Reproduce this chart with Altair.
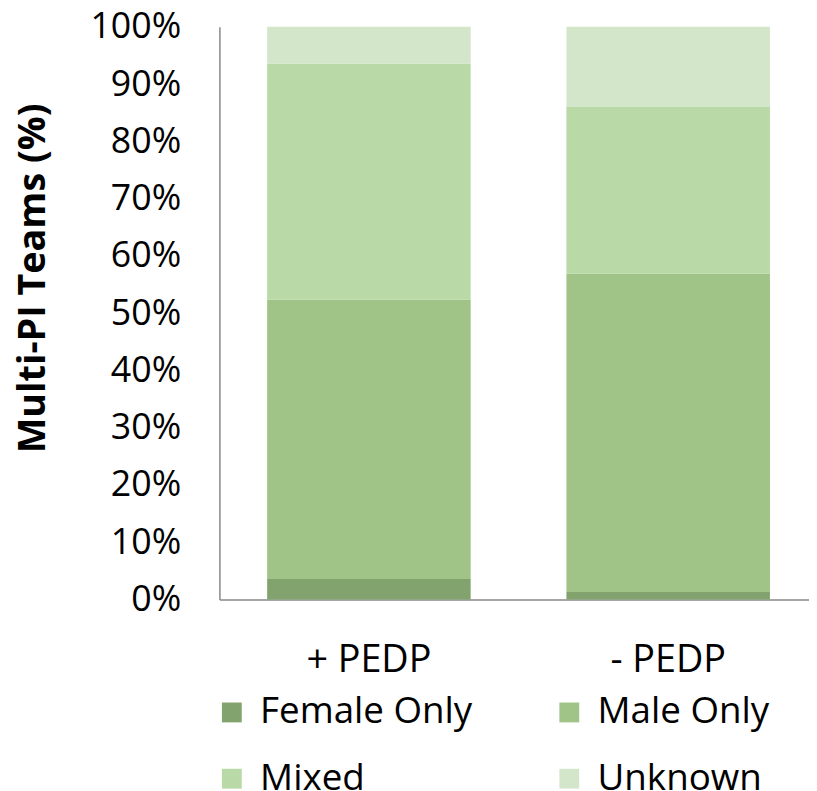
import altair as alt
import pandas as pd

groups = ["+ PEDP", "- PEDP"]
categories = ["Female Only", "Male Only", "Mixed", "Unknown"]
plus_values = [3.6, 48.8, 41.2, 6.4]
minus_values = [1.3, 55.6, 29.1, 14.0]
colors = ["#83A36E", "#A0C488", "#B9D9A6", "#D4E6C9"]
y_ticks = [0, 0.1, 0.2, 0.3, 0.4, 0.5, 0.6, 0.7, 0.8, 0.9, 1.0]

rows = []
for g, vals in zip(groups, [plus_values, minus_values]):
    for i, (c, v) in enumerate(zip(categories, vals)):
        rows.append({"group": g, "category": c, "frac": v / 100.0, "idx": i})
df = pd.DataFrame(rows)

FONT = "Open Sans"
AXIS_COLOR = "#898989"

chart = alt.Chart(df).mark_bar().encode(
    x=alt.X(
        "group:N",
        sort=groups,
        scale=alt.Scale(paddingInner=0.32, paddingOuter=0.145, align=0.55),
        axis=alt.Axis(
            title=None, labelAngle=0, ticks=False, tickSize=0, labelPadding=42,
            labelFontSize=38, labelFont=FONT, labelColor="black",
            domainColor=AXIS_COLOR, domainWidth=1.5, grid=False,
        ),
    ),
    y=alt.Y(
        "frac:Q",
        stack="zero",
        scale=alt.Scale(domain=[0, 1], nice=False),
        axis=alt.Axis(
            title="Multi-PI Teams (%)", format=".0%", values=y_ticks,
            ticks=False, tickSize=0, labelPadding=39, grid=False,
            labelFontSize=36, labelFont=FONT, labelColor="black",
            domainColor=AXIS_COLOR, domainWidth=1.5,
            titleFont=FONT, titleFontSize=38, titleFontWeight="bold", titleColor="black",
            titleAngle=270, titleX=-187, titleY=253, titleAlign="center", titleBaseline="middle",
        ),
    ),
    color=alt.Color(
        "category:N",
        sort=categories,
        scale=alt.Scale(domain=categories, range=colors),
        legend=alt.Legend(
            title=None, orient="none", legendX=-6, legendY=672, columns=2,
            direction="horizontal",
            symbolType="square", symbolSize=400, symbolStrokeWidth=0, symbolOpacity=1,
            labelFontSize=37, labelFont=FONT, labelColor="black",
            columnPadding=79, rowPadding=29, labelOffset=10, labelLimit=400,
        ),
    ),
    order=alt.Order("idx:Q", sort="ascending"),
).properties(
    width=594,
    height=577,
    autosize=alt.AutoSizeParams(type="none"),
    padding={"left": 213, "top": 16, "right": 0, "bottom": 200},
).configure_view(stroke=None)

chart.save("out.html", embed_options={"renderer": "svg", "actions": False})
